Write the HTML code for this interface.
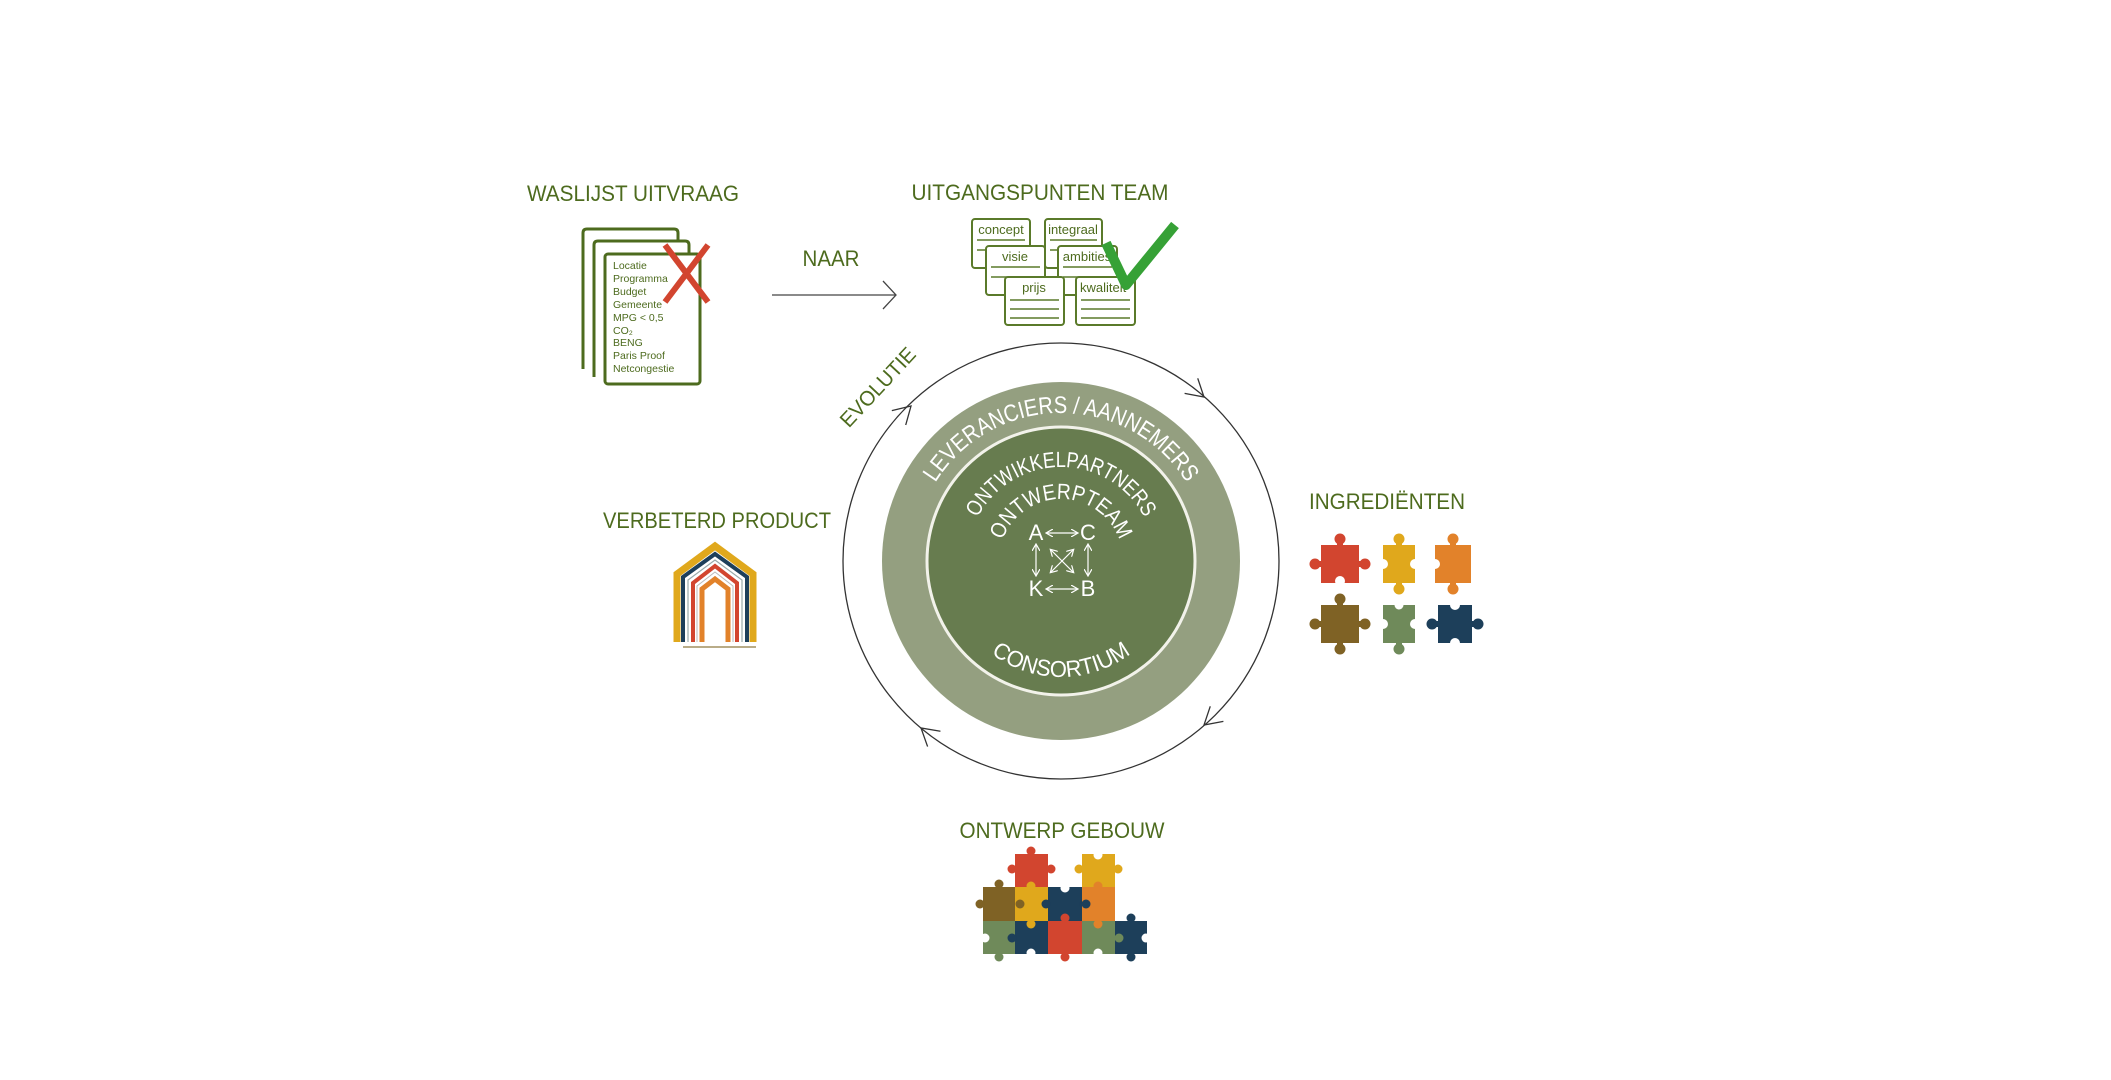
<!DOCTYPE html>
<html><head><meta charset="utf-8"><style>
html,body{margin:0;padding:0;background:#fff;}
svg{display:block;font-family:"Liberation Sans",sans-serif;}
.t{fill:#4d6b1e;font-size:22px;}
</style></head><body>
<svg width="2111" height="1080" viewBox="0 0 2111 1080">
<defs>
<marker id="ah" markerWidth="8" markerHeight="8" refX="6" refY="4" orient="auto-start-reverse" markerUnits="userSpaceOnUse"><path d="M0,0 L7,4 L0,8" fill="none" stroke="#fff" stroke-width="1.2"/></marker>
<path id="pLev" d="M913 561 A148 148 0 0 1 1209 561"/>
<path id="pOnt" d="M967 561 A94 94 0 0 1 1155 561"/>
<path id="pTeam" d="M999 561 A62 62 0 0 1 1123 561"/>
<path id="pCon" d="M945 561 A116 116 0 0 0 1177 561"/>
</defs>

<!-- titles -->
<text class="t" x="633" y="201" text-anchor="middle" textLength="212" lengthAdjust="spacingAndGlyphs">WASLIJST UITVRAAG</text>
<text class="t" x="1040" y="200" text-anchor="middle" textLength="257" lengthAdjust="spacingAndGlyphs">UITGANGSPUNTEN TEAM</text>
<text class="t" x="831" y="266" text-anchor="middle" textLength="57" lengthAdjust="spacingAndGlyphs">NAAR</text>
<text class="t" x="717" y="528" text-anchor="middle" textLength="228" lengthAdjust="spacingAndGlyphs">VERBETERD PRODUCT</text>
<text class="t" x="1387" y="509" text-anchor="middle" textLength="156" lengthAdjust="spacingAndGlyphs">INGREDIËNTEN</text>
<text class="t" x="1062" y="838" text-anchor="middle" textLength="205" lengthAdjust="spacingAndGlyphs">ONTWERP GEBOUW</text>

<!-- arrow NAAR -->
<line x1="772" y1="295" x2="895" y2="295" stroke="#444" stroke-width="1.3"/>
<path d="M883 281 L896 295 L883 309" fill="none" stroke="#444" stroke-width="1.3"/>

<!-- waslijst docs -->
<g transform="translate(-10 0)">
<g fill="none" stroke="#4d6b1e" stroke-width="3">
<path d="M593 369 L593 233 Q593 229 597 229 L684 229 Q688 229 688 233 L688 241"/>
<path d="M604 377 L604 245 Q604 241 608 241 L695 241 Q699 241 699 245 L699 254"/>
<rect x="615" y="254" width="95" height="130" rx="3" fill="#fff"/>
</g>
<g fill="#4d6b1e" font-size="10.5">
<text x="623" y="269">Locatie</text>
<text x="623" y="282">Programma</text>
<text x="623" y="295">Budget</text>
<text x="623" y="308">Gemeente</text>
<text x="623" y="321">MPG &lt; 0,5</text>
<text x="623" y="334">CO₂</text>
<text x="623" y="346">BENG</text>
<text x="623" y="359">Paris Proof</text>
<text x="623" y="372">Netcongestie</text>
</g>
<g stroke="#d2452f" stroke-width="6"><line x1="675" y1="245" x2="718" y2="302"/><line x1="718" y1="245" x2="675" y2="302"/></g>
</g>

<!-- team docs -->
<g transform="translate(-14 0)">
<g font-size="13" fill="#4d6b1e">
<g><rect x="986" y="219" width="58" height="49" rx="3" fill="#fff" stroke="#5a7a2a" stroke-width="2"/><text x="1015" y="234" text-anchor="middle">concept</text><path d="M991 240H1039M991 250H1039" stroke="#5a7a2a" stroke-width="1.5"/></g>
<g><rect x="1059" y="219" width="57" height="49" rx="3" fill="#fff" stroke="#5a7a2a" stroke-width="2"/><text x="1087" y="234" text-anchor="middle">integraal</text><path d="M1064 240H1111M1064 250H1111" stroke="#5a7a2a" stroke-width="1.5"/></g>
<g><rect x="1000" y="246" width="59" height="49" rx="3" fill="#fff" stroke="#5a7a2a" stroke-width="2"/><text x="1029" y="261" text-anchor="middle">visie</text><path d="M1005 267H1054M1005 277H1054" stroke="#5a7a2a" stroke-width="1.5"/></g>
<g><rect x="1072" y="246" width="59" height="49" rx="3" fill="#fff" stroke="#5a7a2a" stroke-width="2"/><text x="1101" y="261" text-anchor="middle">ambities</text><path d="M1077 267H1126M1077 277H1126" stroke="#5a7a2a" stroke-width="1.5"/></g>
<g><rect x="1019" y="277" width="59" height="48" rx="3" fill="#fff" stroke="#5a7a2a" stroke-width="2"/><text x="1048" y="292" text-anchor="middle">prijs</text><path d="M1024 300H1073M1024 309H1073M1024 318H1073" stroke="#5a7a2a" stroke-width="1.5"/></g>
<g><rect x="1090" y="277" width="59" height="48" rx="3" fill="#fff" stroke="#5a7a2a" stroke-width="2"/><text x="1094" y="292">kwaliteit</text><path d="M1095 300H1144M1095 309H1144M1095 318H1144" stroke="#5a7a2a" stroke-width="1.5"/></g>
</g>
<path d="M1120 243 L1140 285 L1189 225" fill="none" stroke="#36a136" stroke-width="10" stroke-linejoin="round"/>
</g>

<!-- circles -->
<circle cx="1061" cy="561" r="218" fill="none" stroke="#333" stroke-width="1.3"/>
<circle cx="1061" cy="561" r="179" fill="#949f80"/>
<circle cx="1061" cy="561" r="134" fill="#677c4f" stroke="#f2f2ea" stroke-width="3"/>
<g fill="none" stroke="#333" stroke-width="1.3">
<path d="M-17,-10 L0,0 L-17,10" transform="translate(911 406) rotate(-44)"/>
<path d="M-17,-10 L0,0 L-17,10" transform="translate(1204 397) rotate(41)"/>
<path d="M-17,-10 L0,0 L-17,10" transform="translate(1204 725) rotate(139)"/>
<path d="M-17,-10 L0,0 L-17,10" transform="translate(921 728) rotate(220)"/>
</g>
<text x="0" y="0" font-size="21" transform="translate(883 392) rotate(-47)" text-anchor="middle" textLength="100" lengthAdjust="spacingAndGlyphs" fill="#4d6b1e">EVOLUTIE</text>

<g fill="#fff">
<text font-size="24"><textPath href="#pLev" startOffset="50%" text-anchor="middle" textLength="300" lengthAdjust="spacingAndGlyphs">LEVERANCIERS / AANNEMERS</textPath></text>
<text font-size="22"><textPath href="#pOnt" startOffset="50%" text-anchor="middle" textLength="205" lengthAdjust="spacingAndGlyphs">ONTWIKKELPARTNERS</textPath></text>
<text font-size="22"><textPath href="#pTeam" startOffset="50%" text-anchor="middle" textLength="152" lengthAdjust="spacingAndGlyphs">ONTWERPTEAM</textPath></text>
<text font-size="23"><textPath href="#pCon" startOffset="50%" text-anchor="middle" textLength="150" lengthAdjust="spacingAndGlyphs">CONSORTIUM</textPath></text>
<g font-size="22" text-anchor="middle">
<text x="1036" y="540">A</text><text x="1088" y="540">C</text>
<text x="1036" y="596">K</text><text x="1088" y="596">B</text>
</g>
</g>
<g stroke="#fff" stroke-width="1.2" marker-start="url(#ah)" marker-end="url(#ah)">
<line x1="1047" y1="533" x2="1077" y2="533"/>
<line x1="1047" y1="589" x2="1077" y2="589"/>
<line x1="1036" y1="545" x2="1036" y2="575"/>
<line x1="1088" y1="545" x2="1088" y2="575"/>
<line x1="1051" y1="550" x2="1073" y2="572"/>
<line x1="1073" y1="550" x2="1051" y2="572"/>
</g>

<!-- house -->
<g fill="none" stroke-linejoin="miter">
<path d="M677 642 V574 L715 546 L753 574 V642" stroke="#e0a81c" stroke-width="7"/>
<path d="M683 642 V577 L715 554 L747 577 V642" stroke="#1d3f5a" stroke-width="4"/>
<path d="M688 642 V580 L715 560 L742 580 V642" stroke="#9aa" stroke-width="1.2"/>
<path d="M693 642 V583 L715 566 L737 583 V642" stroke="#d2452f" stroke-width="4"/>
<path d="M697 642 V586 L715 572 L733 586 V642" stroke="#bbb" stroke-width="1"/>
<path d="M702 642 V589 L715 579 L728 589 V642" stroke="#e2822a" stroke-width="5"/>
</g>
<line x1="683" y1="647" x2="756" y2="647" stroke="#a29060" stroke-width="1.5"/>

<!-- ingredient pieces -->
<g transform="translate(-19 0)">
<g fill="#d2452f"><rect x="1340" y="545" width="38" height="38"/><circle cx="1359" cy="539" r="5.5"/><rect x="1356" y="539" width="6" height="8"/><circle cx="1334" cy="564" r="5.5"/><rect x="1334" y="561" width="8" height="6"/><circle cx="1384" cy="564" r="5.5"/><rect x="1376" y="561" width="8" height="6"/></g>
<circle cx="1359" cy="581" r="5" fill="#fff"/>
<g fill="#e0a81c"><rect x="1402" y="545" width="32" height="38"/><circle cx="1418" cy="539" r="5.5"/><rect x="1415" y="539" width="6" height="8"/><circle cx="1418" cy="589" r="5.5"/><rect x="1415" y="582" width="6" height="8"/></g>
<circle cx="1402" cy="564" r="5" fill="#fff"/><circle cx="1434" cy="564" r="5" fill="#fff"/>
<g fill="#e2822a"><rect x="1454" y="545" width="36" height="38"/><circle cx="1472" cy="539" r="5.5"/><rect x="1469" y="539" width="6" height="8"/><circle cx="1472" cy="589" r="5.5"/><rect x="1469" y="582" width="6" height="8"/></g>
<circle cx="1454" cy="564" r="5" fill="#fff"/>
<g fill="#7f6225"><rect x="1340" y="605" width="38" height="38"/><circle cx="1359" cy="599" r="5.5"/><rect x="1356" y="599" width="6" height="8"/><circle cx="1359" cy="649" r="5.5"/><rect x="1356" y="642" width="6" height="8"/><circle cx="1334" cy="624" r="5.5"/><rect x="1334" y="621" width="8" height="6"/><circle cx="1384" cy="624" r="5.5"/><rect x="1376" y="621" width="8" height="6"/></g>
<g fill="#6f8a5a"><rect x="1402" y="605" width="32" height="38"/><circle cx="1418" cy="649" r="5.5"/><rect x="1415" y="642" width="6" height="8"/></g>
<circle cx="1402" cy="624" r="5" fill="#fff"/><circle cx="1434" cy="624" r="5" fill="#fff"/><circle cx="1418" cy="605" r="4.5" fill="#fff"/>
<g fill="#1d3f5a"><rect x="1457" y="605" width="34" height="38"/><circle cx="1451" cy="624" r="5.5"/><rect x="1451" y="621" width="8" height="6"/><circle cx="1497" cy="624" r="5.5"/><rect x="1489" y="621" width="8" height="6"/></g>
<circle cx="1474" cy="605" r="5" fill="#fff"/><circle cx="1474" cy="643" r="5" fill="#fff"/>
</g>

<!-- cluster -->
<g>
<g fill="#d2452f"><rect x="1015" y="854" width="33" height="33"/><circle cx="1031" cy="851" r="4.5"/><circle cx="1012" cy="869" r="4.5"/><circle cx="1051" cy="869" r="4.5"/></g>
<g fill="#e0a81c"><rect x="1082" y="854" width="33" height="33"/><circle cx="1079" cy="869" r="4.5"/><circle cx="1118" cy="869" r="4.5"/></g>
<circle cx="1098" cy="855" r="4.5" fill="#fff"/>
<g fill="#7f6225"><rect x="983" y="887" width="32" height="34"/><circle cx="999" cy="884" r="4.5"/><circle cx="980" cy="904" r="4.5"/></g>
<g fill="#e0a81c"><rect x="1015" y="887" width="33" height="34"/><circle cx="1031" cy="886" r="4.5"/><circle cx="1031" cy="923" r="4.5"/></g>
<circle cx="1020" cy="904" r="4.5" fill="#7f6225"/>
<g fill="#1d3f5a"><rect x="1048" y="887" width="34" height="34"/><circle cx="1046" cy="904" r="4.5"/><circle cx="1084" cy="904" r="4.5"/></g>
<circle cx="1065" cy="888" r="4.5" fill="#fff"/>
<g fill="#e2822a"><rect x="1082" y="887" width="33" height="34"/><circle cx="1098" cy="886" r="4.5"/><circle cx="1098" cy="923" r="4.5"/></g>
<circle cx="1086" cy="904" r="4.5" fill="#1d3f5a"/>
<g fill="#6f8a5a"><rect x="983" y="921" width="32" height="33"/><circle cx="999" cy="957" r="4.5"/></g>
<circle cx="985" cy="938" r="4.5" fill="#fff"/>
<g fill="#1d3f5a"><rect x="1015" y="921" width="33" height="33"/><circle cx="1012" cy="938" r="4.5"/><circle cx="1050" cy="938" r="4.5"/></g>
<circle cx="1031" cy="953" r="4.5" fill="#fff"/><circle cx="1031" cy="924" r="4.5" fill="#e0a81c"/>
<g fill="#d2452f"><rect x="1048" y="921" width="34" height="33"/><circle cx="1065" cy="918" r="4.5"/><circle cx="1065" cy="957" r="4.5"/><circle cx="1085" cy="938" r="4.5"/></g>
<g fill="#6f8a5a"><rect x="1082" y="921" width="33" height="33"/><circle cx="1118" cy="938" r="4.5"/></g>
<circle cx="1098" cy="953" r="4.5" fill="#fff"/><circle cx="1098" cy="924" r="4.5" fill="#e2822a"/>
<g fill="#1d3f5a"><rect x="1115" y="921" width="32" height="33"/><circle cx="1131" cy="918" r="4.5"/><circle cx="1131" cy="957" r="4.5"/></g>
<circle cx="1146" cy="938" r="4.5" fill="#fff"/><circle cx="1119" cy="938" r="4.5" fill="#6f8a5a"/>
</g>
</svg>
</body></html>
